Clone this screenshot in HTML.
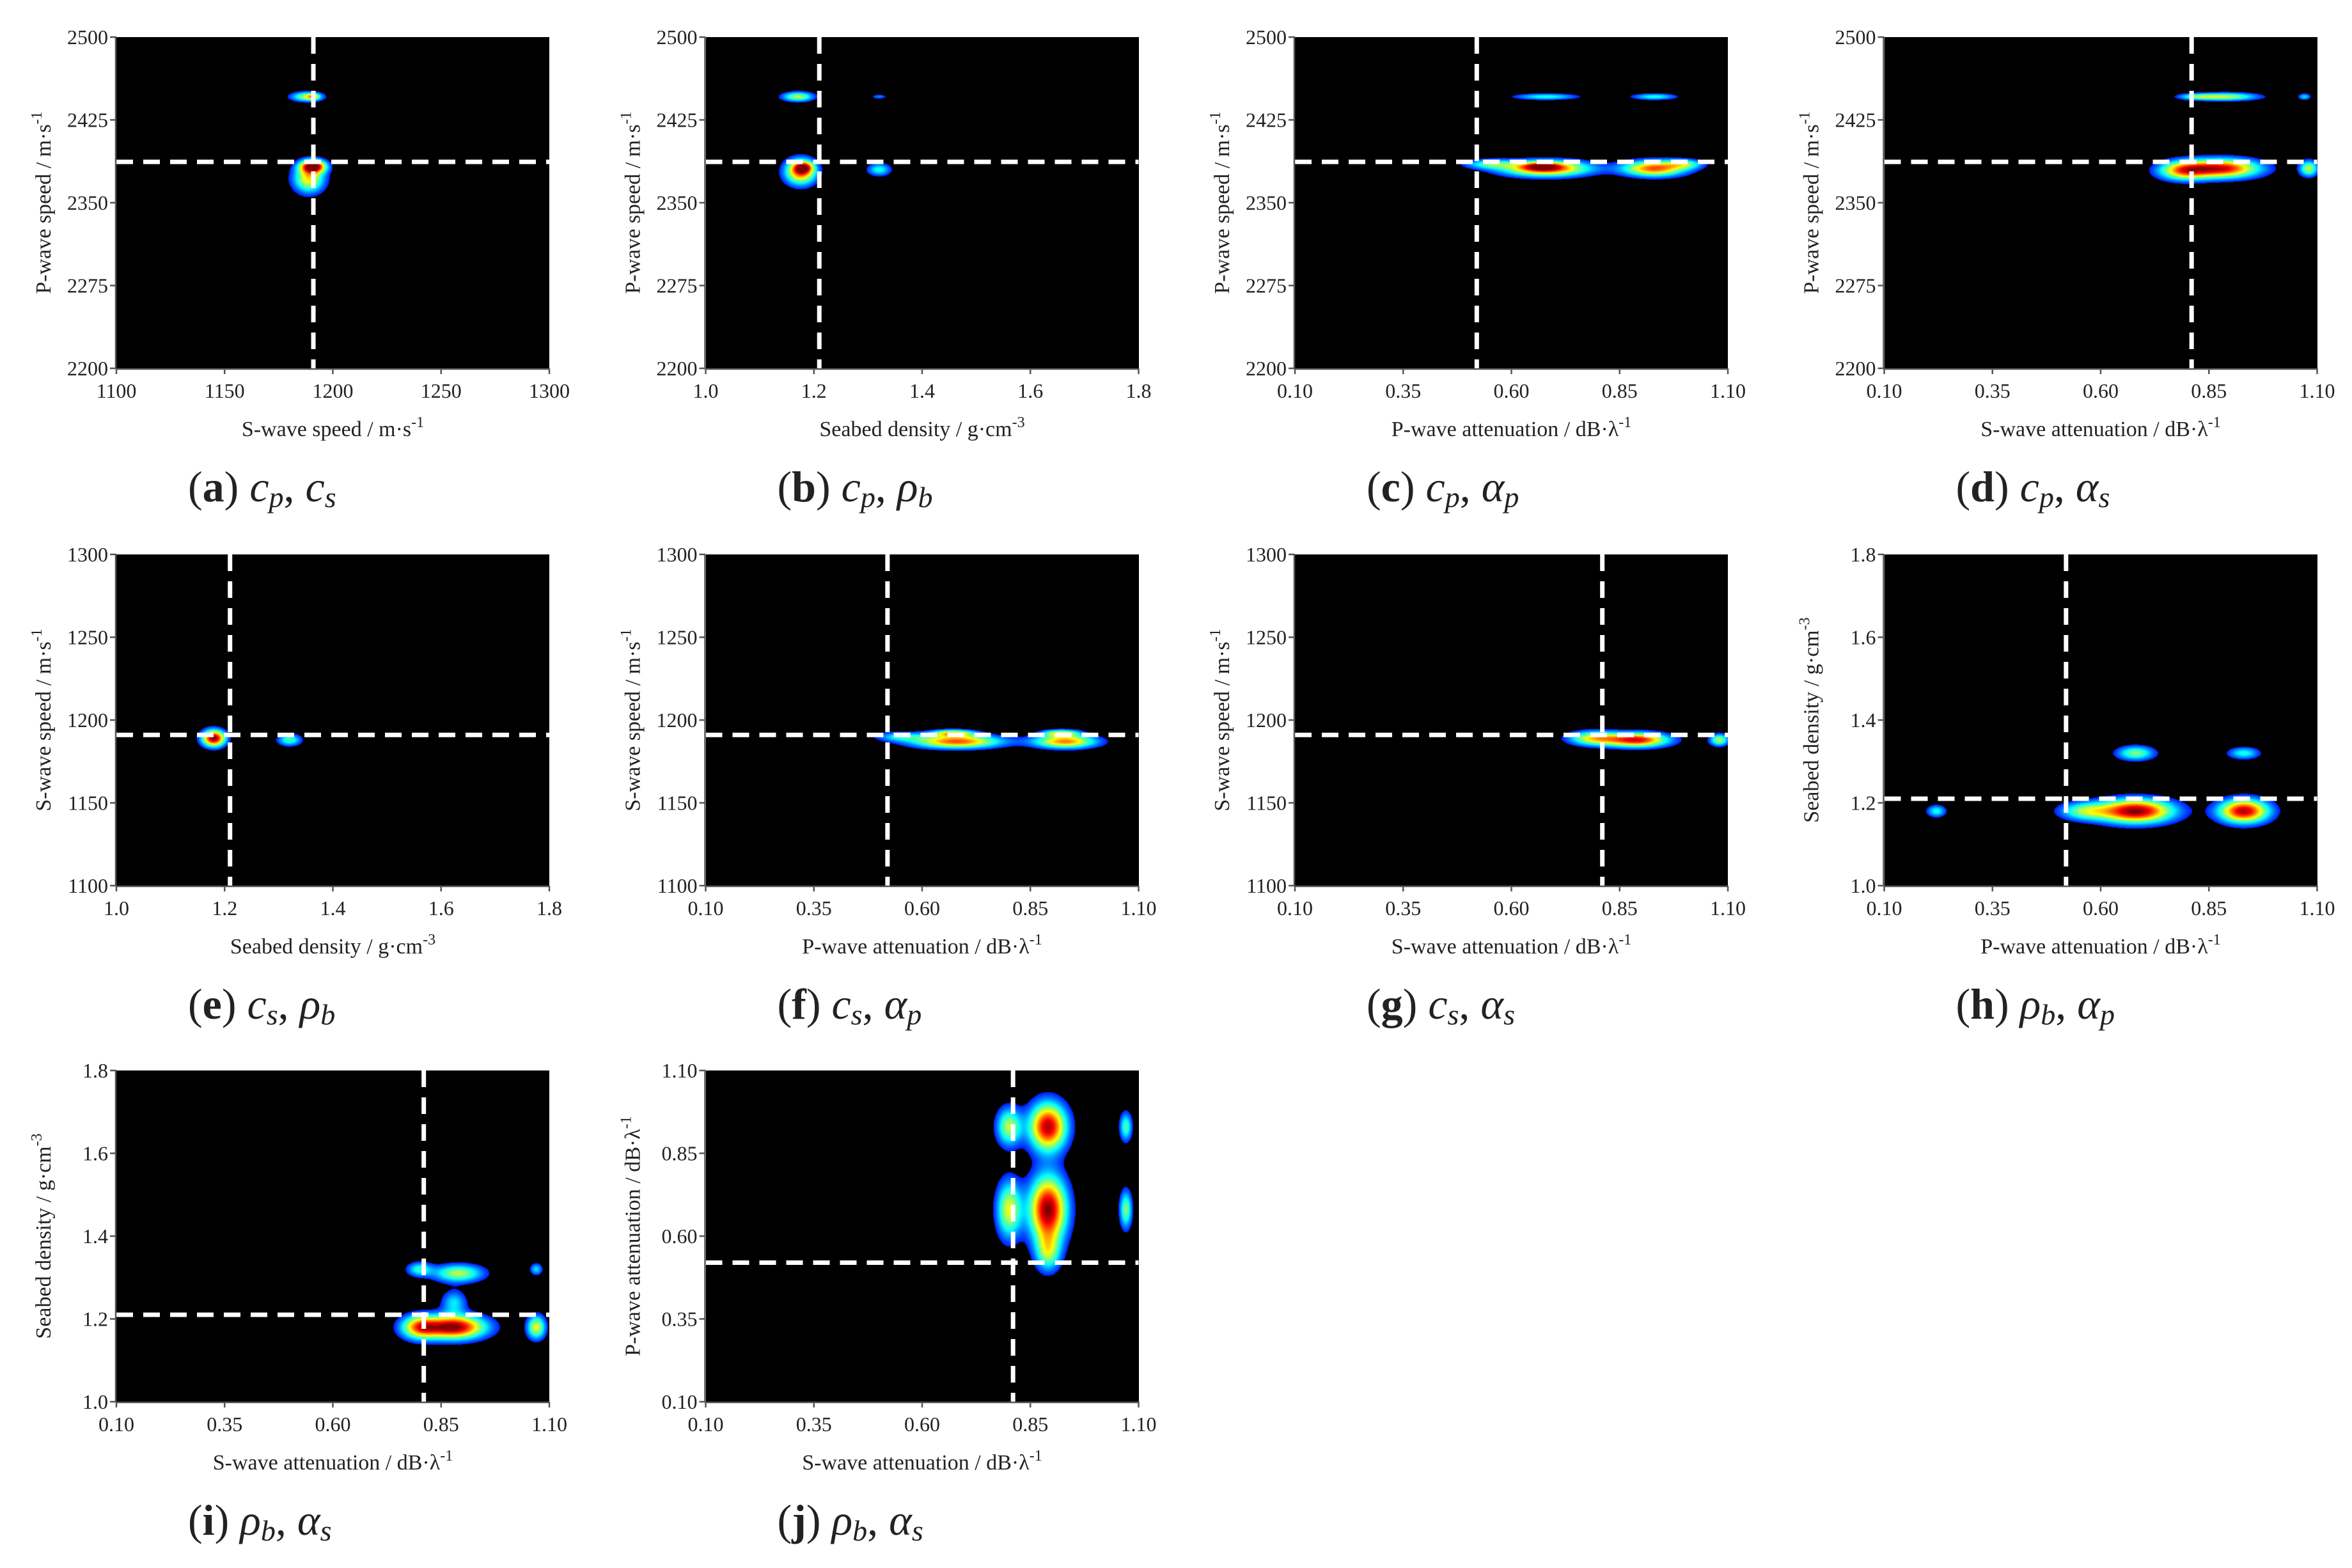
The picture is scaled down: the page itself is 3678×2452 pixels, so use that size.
<!DOCTYPE html>
<html><head><meta charset="utf-8">
<style>
html,body{margin:0;padding:0;background:#fff;}
#wrap{position:relative;width:3678px;height:2452px;overflow:hidden;background:#fff;}
canvas{position:absolute;}
svg{position:absolute;left:0;top:0;}
text{font-family:"Liberation Serif",serif;fill:#222;}
</style></head>
<body>
<div id="wrap">
<svg id="ov" width="3678" height="2452"></svg>
</div>
<script>
// ---------- data ----------
const colX = [182, 1103.5, 2025, 2946.5];
const rowY = [58, 867, 1674];
const PW = 677, PH = 518;

const ticksCp = [2200, 2275, 2350, 2425, 2500];
const ticksCs = [1100, 1150, 1200, 1250, 1300];
const ticksRho = [1.0, 1.2, 1.4, 1.6, 1.8];
const ticksAtt = [0.10, 0.35, 0.60, 0.85, 1.10];

const panelLetters = ['a','b','c','d','e','f','g','h','i','j'];
const panelCol = [0,1,2,3,0,1,2,3,0,1];
const panelRow = [0,0,0,0,1,1,1,1,2,2];
const panelXKind = ['cs','rho','ap','as','rho','ap','as','ap','as','as'];
const panelYKind = ['cp','cp','cp','cp','cs','cs','cs','rho','rho','ap'];
const vLines = [1191, 1.21, 0.52, 0.81, 1.21, 0.52, 0.81, 0.52, 0.81, 0.81];
const hLines = [2387, 2387, 2387, 2387, 1191, 1191, 1191, 1.21, 1.21, 0.52];
const captionVars = [['c','p','c','s'],['c','p','ρ','b'],['c','p','α','p'],['c','p','α','s'],['c','s','ρ','b'],['c','s','α','p'],['c','s','α','s'],['ρ','b','α','p'],['ρ','b','α','s'],['ρ','b','α','s']];

// blobs per panel: [x, y, sx, sy, amplitude]
const blobsA = [[1188,2446,5,3,0.5],[1191,2446,2,2,0.3],[1189,2372,5,9,0.6],[1191,2383,4,4,0.9]];
const blobsB = [[1.17,2446,0.02,3,0.5],[1.32,2446,0.01,1.5,0.2],[1.175,2378,0.02,8,0.75],[1.18,2382,0.012,3.5,0.5],[1.32,2380,0.015,4,0.35]];
const blobsC = [[0.68,2446,0.05,2,0.35],[0.93,2446,0.035,2,0.35],[0.68,2381,0.07,5,0.8],[0.67,2383,0.03,2.5,0.4],[0.93,2381,0.05,5,0.75],[0.55,2385,0.04,3,0.35],[1.0,2385,0.03,3,0.35]];
const blobsD = [[0.89,2446,0.05,2.5,0.5],[0.82,2446,0.03,2,0.3],[1.07,2446,0.01,2,0.3],[0.88,2381,0.06,6,0.85],[0.79,2379,0.04,6,0.6],[1.08,2381,0.015,5,0.5]];
const blobsE = [[1.18,1189,0.015,3.5,0.95],[1.32,1188,0.015,2.5,0.4]];
const blobsF = [[0.68,1187,0.07,2.8,0.75],[0.67,1192,0.035,1.5,0.55],[0.93,1187,0.05,2.8,0.7],[0.92,1192,0.03,1.5,0.5],[0.55,1190,0.04,2,0.3]];
const blobsG = [[0.89,1188,0.05,3,0.85],[0.79,1189,0.04,3,0.55],[1.08,1188,0.015,2.5,0.5]];
const blobsH = [[0.22,1.18,0.015,0.01,0.35],[0.68,1.18,0.06,0.02,0.95],[0.93,1.18,0.04,0.02,0.9],[0.56,1.18,0.04,0.015,0.4],[0.68,1.32,0.03,0.012,0.45],[0.93,1.32,0.025,0.01,0.35]];
const blobsI = [[0.88,1.18,0.05,0.02,0.95],[0.80,1.18,0.03,0.02,0.6],[1.07,1.18,0.015,0.02,0.55],[0.89,1.31,0.04,0.015,0.5],[0.80,1.32,0.02,0.012,0.35],[1.07,1.32,0.01,0.01,0.3],[0.88,1.24,0.02,0.02,0.3]];
const blobsJ = [[0.89,0.68,0.03,0.07,0.95],[0.89,0.93,0.03,0.05,0.9],[0.80,0.68,0.02,0.06,0.55],[0.80,0.93,0.02,0.04,0.5],[1.07,0.68,0.01,0.04,0.45],[1.07,0.93,0.01,0.03,0.4],[0.89,0.55,0.02,0.04,0.4]];
const panelBlobs = [blobsA,blobsB,blobsC,blobsD,blobsE,blobsF,blobsG,blobsH,blobsI,blobsJ];

// ---------- helpers ----------
const kinds = {
  cp:{ticks:ticksCp, fmt:v=>String(v), title:['P-wave speed / m·s','-1']},
  cs:{ticks:ticksCs, fmt:v=>String(v), title:['S-wave speed / m·s','-1']},
  rho:{ticks:ticksRho, fmt:v=>v.toFixed(1), title:['Seabed density / g·cm','-3']},
  ap:{ticks:ticksAtt, fmt:v=>v.toFixed(2), title:['P-wave attenuation / dB·λ','-1']},
  as:{ticks:ticksAtt, fmt:v=>v.toFixed(2), title:['S-wave attenuation / dB·λ','-1']}
};
const NS = 'http://www.w3.org/2000/svg';
const ov = document.getElementById('ov');
const wrap = document.getElementById('wrap');
function mk(tag, attrs, parent){const e=document.createElementNS(NS,tag);for(const k in attrs)e.setAttribute(k,attrs[k]);(parent||ov).appendChild(e);return e;}
function jet(v){
  v=Math.max(0,Math.min(1,v));
  const r=Math.max(0,Math.min(1,1.5-Math.abs(4*v-3)));
  const g=Math.max(0,Math.min(1,1.5-Math.abs(4*v-2)));
  const b=Math.max(0,Math.min(1,1.5-Math.abs(4*v-1)));
  return [r*255,g*255,b*255];
}

for(let p=0;p<10;p++){
  const x0=colX[panelCol[p]], y0=rowY[panelRow[p]];
  const xk=kinds[panelXKind[p]], yk=kinds[panelYKind[p]];
  const xmin=xk.ticks[0], xmax=xk.ticks[xk.ticks.length-1];
  const ymin=yk.ticks[0], ymax=yk.ticks[yk.ticks.length-1];
  const sx=v=>x0+(v-xmin)/(xmax-xmin)*PW;
  const sy=v=>y0+PH-(v-ymin)/(ymax-ymin)*PH;

  const cv=document.createElement('canvas');
  cv.width=PW; cv.height=PH;
  cv.style.left=x0+'px'; cv.style.top=y0+'px';
  
  
  wrap.insertBefore(cv, ov);
  const ctx=cv.getContext('2d');
  const img=ctx.createImageData(PW,PH);
  const bl=panelBlobs[p];
  for(let j=0;j<PH;j++){
    const yv=ymax-(j+0.5)/PH*(ymax-ymin);
    for(let i=0;i<PW;i++){
      const xv=xmin+(i+0.5)/PW*(xmax-xmin);
      let d=0;
      for(const b of bl){
        const dx=(xv-b[0])/b[2], dy=(yv-b[1])/b[3];
        const q=dx*dx+dy*dy; if(q<30) d+=b[4]*Math.exp(-0.5*q);
      }
      const k=(j*PW+i)*4;
      if(d>0.1){const c=jet(0.05+d);img.data[k]=c[0];img.data[k+1]=c[1];img.data[k+2]=c[2];}
      img.data[k+3]=255;
    }
  }
  ctx.putImageData(img,0,0);

  const g=mk('g',{});
  const vl=mk('line',{x1:sx(vLines[p]),x2:sx(vLines[p]),y1:y0,y2:y0+PH,stroke:'#fff','stroke-width':7,'stroke-dasharray':'26 16'},g);
  
  
  const hl=mk('line',{x1:x0,x2:x0+PW,y1:sy(hLines[p]),y2:sy(hLines[p]),stroke:'#fff','stroke-width':7,'stroke-dasharray':'26 16'},g);
  
  
  mk('line',{x1:x0-1,x2:x0-1,y1:y0,y2:y0+PH+1,stroke:'#555','stroke-width':2.5,},g);
  mk('line',{x1:x0-1,x2:x0+PW,y1:y0+PH+1,y2:y0+PH+1,stroke:'#555','stroke-width':2.5,},g);
  xk.ticks.forEach(t=>{
    const X=sx(t);
    mk('line',{x1:X,x2:X,y1:y0+PH,y2:y0+PH+9,stroke:'#555','stroke-width':2.5},g);
    const tx=mk('text',{x:X,y:y0+PH+46,'font-size':32,'text-anchor':'middle'},g);
    tx.textContent=xk.fmt(t);
    
    
  });
  yk.ticks.forEach(t=>{
    const Y=sy(t);
    mk('line',{x1:x0-10,x2:x0,y1:Y,y2:Y,stroke:'#555','stroke-width':2.5},g);
    const tx=mk('text',{x:x0-13,y:Y+11,'font-size':32,'text-anchor':'end'},g);
    tx.textContent=yk.fmt(t);
    
    
  });
  const xt=mk('text',{x:x0+PW/2,y:y0+PH+106,'font-size':34,'text-anchor':'middle'},g);
  
  
  mk('tspan',{},xt).textContent=xk.title[0];
  mk('tspan',{dy:-14,'font-size':24},xt).textContent=xk.title[1];
  const cxT=x0-114, cyT=y0+PH/2;
  const yt=mk('text',{x:cxT,y:cyT,'font-size':34,'text-anchor':'middle',transform:`rotate(-90 ${cxT} ${cyT})`,dy:11},g);
  
  
  mk('tspan',{},yt).textContent=yk.title[0];
  mk('tspan',{dy:-14,'font-size':24},yt).textContent=yk.title[1];
  const cv2=captionVars[p];
  const cap=mk('text',{x:x0+112,y:y0+PH+208,'font-size':68},g);
  
  
  mk('tspan',{},cap).textContent='(';
  mk('tspan',{'font-weight':'bold'},cap).textContent=panelLetters[p];
  mk('tspan',{},cap).textContent=') ';
  mk('tspan',{'font-style':'italic'},cap).textContent=cv2[0];
  mk('tspan',{'font-style':'italic','font-size':46,dy:9},cap).textContent=cv2[1];
  mk('tspan',{dy:-9},cap).textContent=',  ';
  mk('tspan',{'font-style':'italic'},cap).textContent=cv2[2];
  mk('tspan',{'font-style':'italic','font-size':46,dy:9},cap).textContent=cv2[3];
}
</script>
</body></html>
